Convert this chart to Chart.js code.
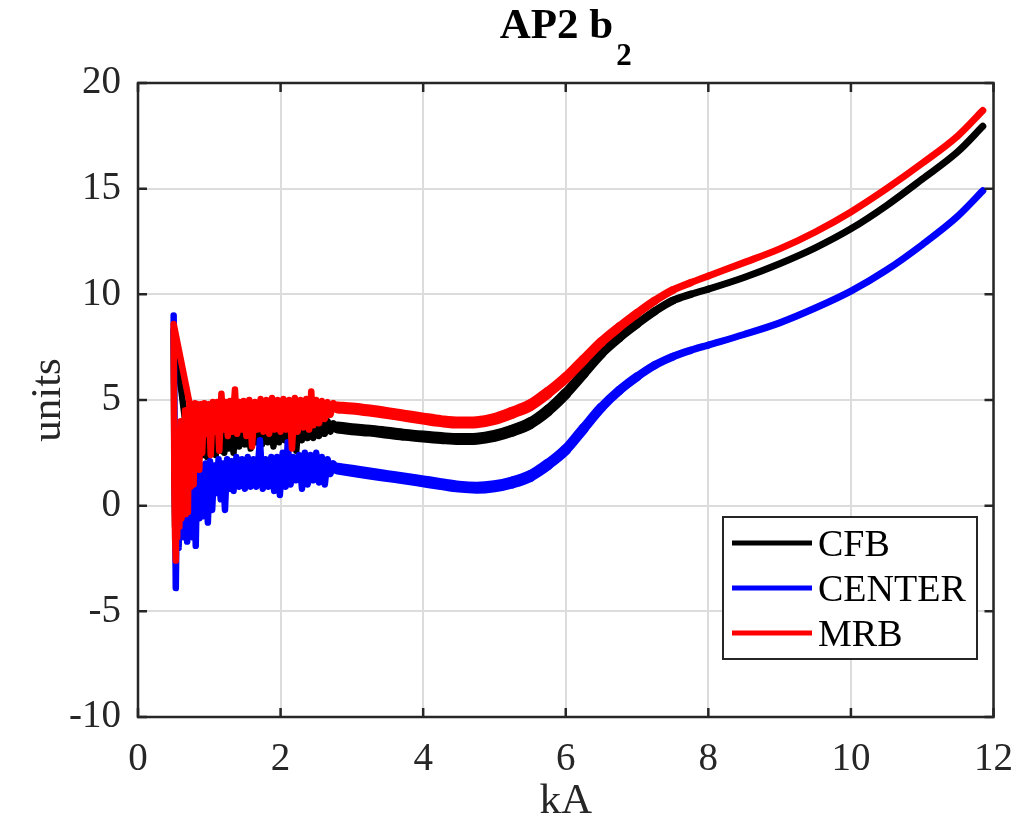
<!DOCTYPE html>
<html>
<head>
<meta charset="utf-8">
<title>AP2 b2</title>
<script src="https://cdn.jsdelivr.net/npm/chart.js@4.4.1/dist/chart.umd.min.js"></script>
<style>
  html, body { margin: 0; padding: 0; background: #ffffff; }
  #chart { display: block; }
</style>
</head>
<body>
<canvas id="chart" width="1032" height="835"></canvas>
<script>
// Series and axes
const seriesNames = ['CFB', 'CENTER', 'MRB'];
const seriesColors = ['#000000', '#0000ff', '#ff0000'];
const xTicks = [0, 2, 4, 6, 8, 10, 12];
const yTicks = [-10, -5, 0, 5, 10, 15, 20];

// Low current part (noisy ramp start)
const cfbLowX = [0.70, 0.50, 0.51, 0.52, 0.54, 0.56, 0.58, 0.60, 0.62, 0.64,
  0.66, 0.68, 0.70, 0.73, 0.76, 0.79, 0.82, 0.85, 0.88, 0.91,
  0.94, 0.97, 1.00, 1.03, 1.06, 1.09, 1.12, 1.15, 1.18, 1.21,
  1.24, 1.27, 1.30, 1.34, 1.38, 1.42, 1.46, 1.50, 1.54, 1.58,
  1.62, 1.66, 1.70, 1.74, 1.78, 1.82, 1.86, 1.90, 1.94, 1.98,
  2.02, 2.06, 2.10, 2.14, 2.18, 2.22, 2.26, 2.30, 2.34, 2.38,
  2.42, 2.46, 2.50, 2.54, 2.58, 2.62, 2.66, 2.70, 2.74, 2.80];
const cfbLowY = [3.0, 8.3, 2.0, -1.0, 3.0, -0.5, 3.5, 0.5, 3.8, 1.0,
  3.6, 1.5, 3.9, 2.0, 3.8, 1.8, 3.9, 2.3, 3.9, 2.4,
  4.0, 2.3, 4.0, 2.5, 4.1, 2.4, 4.0, 2.6, 4.1, 2.5,
  4.1, 2.7, 4.2, 2.5, 4.2, 2.8, 4.2, 2.9, 4.3, 2.7,
  4.2, 3.0, 4.3, 2.9, 4.3, 3.0, 4.2, 2.8, 4.3, 3.0,
  4.3, 3.1, 4.2, 3.0, 4.2, 2.6, 4.2, 3.1, 4.2, 3.2,
  4.1, 3.2, 4.1, 3.3, 4.1, 3.4, 4.0, 3.5, 3.9, 3.7];

const centerLowX = [0.50, 0.53, 0.55, 0.57, 0.59, 0.61, 0.63, 0.65, 0.67, 0.69,
  0.71, 0.73, 0.75, 0.77, 0.79, 0.81, 0.83, 0.86, 0.89, 0.92,
  0.95, 0.98, 1.01, 1.04, 1.07, 1.10, 1.13, 1.16, 1.19, 1.22,
  1.25, 1.28, 1.31, 1.34, 1.38, 1.42, 1.46, 1.50, 1.54, 1.58,
  1.62, 1.66, 1.71, 1.75, 1.79, 1.83, 1.87, 1.91, 1.95, 1.99,
  2.03, 2.07, 2.10, 2.14, 2.18, 2.22, 2.26, 2.30, 2.34, 2.38,
  2.42, 2.46, 2.50, 2.54, 2.58, 2.62, 2.66, 2.70, 2.74, 2.80];
const centerLowY = [9.0, -3.9, 1.5, -2.0, 2.0, -1.2, 3.2, -1.5, 1.8, -1.7,
  2.0, -0.8, 1.5, -1.5, 1.8, -1.9, 1.6, -0.6, 1.9, -0.5,
  2.0, -0.8, 2.1, -0.2, 1.9, 0.6, 2.2, 0.3, 2.0, -0.2,
  2.2, 0.8, 2.1, 0.7, 2.3, 0.9, 2.2, 0.8, 2.3, 0.9,
  2.2, 0.9, 3.1, 0.8, 2.2, 0.9, 2.3, 0.7, 2.3, 0.5,
  2.5, 0.9, 3.0, 1.0, 2.3, 1.2, 2.4, 0.8, 2.5, 1.0,
  2.4, 1.2, 2.5, 1.1, 2.3, 1.0, 2.2, 1.5, 2.0, 1.75];

const mrbLowX = [0.72, 0.50, 0.51, 0.52, 0.53, 0.54, 0.55,
  0.57, 0.58, 0.60, 0.61, 0.63, 0.64, 0.66, 0.67, 0.69, 0.70,
  0.72, 0.74, 0.76, 0.78, 0.80, 0.82, 0.84, 0.86, 0.88, 0.90,
  0.93, 0.96, 0.99, 1.02, 1.05, 1.08, 1.11, 1.14, 1.17, 1.20,
  1.23, 1.26, 1.29, 1.32, 1.36, 1.39, 1.42, 1.45, 1.48, 1.52,
  1.56, 1.60, 1.64, 1.68, 1.72, 1.76, 1.80, 1.84, 1.88, 1.92,
  1.96, 2.00, 2.04, 2.08, 2.12, 2.16, 2.20, 2.24, 2.28, 2.32,
  2.36, 2.40, 2.43, 2.46, 2.50, 2.54, 2.58, 2.62, 2.66, 2.70,
  2.74, 2.80];
const mrbLowY = [4.9, 8.6, 1.0, -1.5, -2.6, 2.5, -1.5,
  3.5, -1.0, 4.0, -0.6, 3.0, 0.0, 4.5, -0.4, 3.5, -0.3,
  4.8, 0.9, 4.8, 1.0, 4.85, 2.2, 4.8, 1.7, 4.8, 2.5,
  4.85, 3.4, 4.8, 2.4, 4.9, 3.5, 4.9, 2.6, 5.3, 3.6,
  4.9, 3.3, 4.95, 3.5, 5.5, 3.4, 4.9, 3.6, 4.95, 3.3,
  5.0, 2.8, 4.9, 3.6, 5.05, 3.5, 5.0, 3.4, 5.1, 3.6,
  5.0, 3.5, 5.05, 3.6, 5.0, 2.7, 5.1, 3.5, 5.0, 3.7,
  5.05, 3.6, 5.4, 3.8, 5.0, 3.9, 4.95, 4.1, 4.9, 4.3,
  4.85, 4.65];

// Upper part of the ramp, shared kA values
const smoothX = [2.8, 3.0, 3.25, 3.5, 3.75, 4.0, 4.25, 4.5, 4.75, 5.0,
  5.25, 5.5, 5.75, 6.0, 6.25, 6.5, 6.75, 7.0, 7.25, 7.5,
  7.75, 8.0, 8.5, 9.0, 9.5, 10.0, 10.5, 11.0, 11.5, 11.85];
const cfbSmooth = [3.7, 3.62, 3.55, 3.45, 3.35, 3.27, 3.2, 3.15, 3.17, 3.3,
  3.55, 3.9, 4.5, 5.3, 6.25, 7.2, 7.95, 8.6, 9.2, 9.7,
  10.0, 10.25, 10.8, 11.45, 12.2, 13.1, 14.2, 15.45, 16.75, 17.95];
const centerSmooth = [1.75, 1.65, 1.52, 1.4, 1.28, 1.15, 1.02, 0.9, 0.85, 0.92,
  1.1, 1.4, 1.95, 2.65, 3.65, 4.65, 5.45, 6.1, 6.65, 7.05,
  7.35, 7.6, 8.1, 8.65, 9.35, 10.15, 11.15, 12.35, 13.7, 14.9];
const mrbSmooth = [4.65, 4.6, 4.5, 4.38, 4.25, 4.12, 4.0, 3.93, 3.95, 4.1,
  4.4, 4.75, 5.35, 6.05, 6.9, 7.75, 8.45, 9.1, 9.7, 10.2,
  10.55, 10.87, 11.5, 12.15, 12.95, 13.9, 15.0, 16.2, 17.5, 18.7];

const serif = "'Liberation Serif', 'Times New Roman', serif";
const axisColor = '#262626';

function toPoints(xs, ys) {
  return xs.map((x, i) => ({ x: x, y: ys[i] }));
}

// the trace looks thicker where the signal is flat and noisy
function smoothWidth(ctx) {
  const x = ctx.p0.parsed.x;
  if (x < 5.2) return 12;
  if (x > 7.8) return 7;
  return 12 - (x - 5.2) * 5 / 2.6;
}

function lowDataset(i, order) {
  const xs = [cfbLowX, centerLowX, mrbLowX][i];
  const ys = [cfbLowY, centerLowY, mrbLowY][i];
  return {
    label: seriesNames[i],
    data: toPoints(xs, ys),
    borderColor: seriesColors[i],
    borderWidth: 6.5,
    borderCapStyle: 'round',
    borderJoinStyle: 'round',
    pointRadius: 0,
    fill: false,
    tension: 0,
    order: order
  };
}

function highDataset(i, order) {
  const ys = [cfbSmooth, centerSmooth, mrbSmooth][i];
  return {
    label: seriesNames[i],
    data: toPoints(smoothX, ys),
    borderColor: seriesColors[i],
    borderWidth: 9,
    borderCapStyle: 'round',
    borderJoinStyle: 'round',
    pointRadius: 0,
    fill: false,
    cubicInterpolationMode: 'monotone',
    order: order,
    segment: { borderWidth: smoothWidth }
  };
}

// Frame, inward ticks, legend box, title and axis labels
const decorations = {
  id: 'decorations',
  afterDraw(chart) {
    const { ctx, chartArea: a, scales } = chart;
    ctx.save();

    // ticks on all four sides
    ctx.strokeStyle = axisColor;
    ctx.lineWidth = 2.5;
    ctx.beginPath();
    xTicks.forEach(v => {
      const px = scales.x.getPixelForValue(v);
      ctx.moveTo(px, a.bottom); ctx.lineTo(px, a.bottom - 9);
      ctx.moveTo(px, a.top); ctx.lineTo(px, a.top + 9);
    });
    yTicks.forEach(v => {
      const py = scales.y.getPixelForValue(v);
      ctx.moveTo(a.left, py); ctx.lineTo(a.left + 9, py);
      ctx.moveTo(a.right, py); ctx.lineTo(a.right - 9, py);
    });
    ctx.stroke();
    ctx.strokeRect(a.left, a.top, a.right - a.left, a.bottom - a.top);

    // legend
    const box = { x: 723, y: 517, w: 254, h: 142 };
    ctx.fillStyle = '#ffffff';
    ctx.fillRect(box.x, box.y, box.w, box.h);
    ctx.lineWidth = 2;
    ctx.strokeRect(box.x, box.y, box.w, box.h);
    ctx.font = '38px ' + serif;
    ctx.textAlign = 'left';
    ctx.textBaseline = 'alphabetic';
    seriesNames.forEach((name, i) => {
      const ly = box.y + 26 + i * 45;
      ctx.strokeStyle = seriesColors[i];
      ctx.lineWidth = 5;
      ctx.beginPath();
      ctx.moveTo(box.x + 9, ly);
      ctx.lineTo(box.x + 89, ly);
      ctx.stroke();
      ctx.fillStyle = '#000000';
      ctx.fillText(name, box.x + 95, ly + 13);
    });

    // title with subscript
    const cx = (a.left + a.right) / 2;
    ctx.fillStyle = '#000000';
    ctx.font = 'bold 43px ' + serif;
    const mainText = 'AP2 b';
    const w1 = ctx.measureText(mainText).width;
    ctx.font = 'bold 31px ' + serif;
    const w2 = ctx.measureText('2').width;
    const start = cx - (w1 + 3 + w2) / 2;
    ctx.font = 'bold 43px ' + serif;
    ctx.fillText(mainText, start, 38);
    ctx.font = 'bold 31px ' + serif;
    ctx.fillText('2', start + w1 + 3, 65);

    // axis titles
    ctx.fillStyle = axisColor;
    ctx.font = '43px ' + serif;
    ctx.textAlign = 'center';
    ctx.fillText('kA', cx, 813);
    ctx.translate(60, (a.top + a.bottom) / 2);
    ctx.rotate(-Math.PI / 2);
    ctx.fillText('units', 0, 0);

    ctx.restore();
  }
};

const chart = new Chart(document.getElementById('chart'), {
  type: 'line',
  data: {
    datasets: [
      lowDataset(0, 3), highDataset(0, 3),
      lowDataset(1, 2), highDataset(1, 2),
      lowDataset(2, 1), highDataset(2, 1)
    ]
  },
  options: {
    responsive: false,
    animation: false,
    devicePixelRatio: 1,
    layout: { padding: { left: 0, right: 25, top: 83, bottom: 0 } },
    plugins: {
      legend: { display: false },
      title: { display: false },
      tooltip: { enabled: false }
    },
    scales: {
      x: {
        type: 'linear',
        min: 0,
        max: 12,
        afterBuildTicks: s => { s.ticks = xTicks.map(v => ({ value: v })); },
        afterFit: s => { s.height = 118; },
        grid: { color: '#dcdcdc', lineWidth: 2, drawTicks: false },
        border: { display: false },
        ticks: {
          font: { family: serif, size: 39 },
          color: axisColor,
          padding: 19,
          maxRotation: 0,
          autoSkip: false
        }
      },
      y: {
        type: 'linear',
        min: -10,
        max: 20,
        afterBuildTicks: s => { s.ticks = yTicks.map(v => ({ value: v })); },
        afterFit: s => { s.width = 138; },
        grid: { color: '#dcdcdc', lineWidth: 2, drawTicks: false },
        border: { display: false },
        ticks: {
          font: { family: serif, size: 39 },
          color: axisColor,
          padding: 17,
          autoSkip: false
        }
      }
    }
  },
  plugins: [decorations]
});
</script>
</body>
</html>
